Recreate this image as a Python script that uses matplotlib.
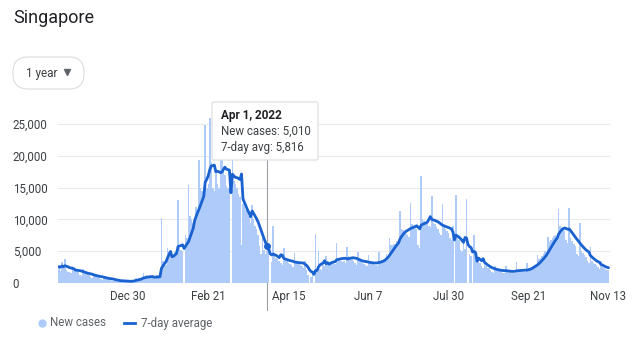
import numpy as np
import pandas as pd
import matplotlib
matplotlib.use("Agg")
import matplotlib.pyplot as plt
from matplotlib.lines import Line2D
from matplotlib.patches import FancyBboxPatch
from matplotlib.transforms import IdentityTransform

plt.rcParams['font.family'] = ['Roboto', 'DejaVu Sans']

# data
start = "2021-11-14"
# last 6 days before the window (only used to warm up the 7-day average)
cases_before = [2500, 2000, 3200, 2700, 2600, 2400]
# daily new cases, one row per week (Sun..Sat)
new_cases = [
    2600, 1900, 3300, 2500, 3700, 2100, 1800,
    1700, 1500, 2700, 2300, 2200, 1900, 1700,
    1300, 1100, 2200, 1700, 1500, 1400, 1300,
    900, 750, 1500, 1200, 1100, 1000, 900,
    600, 500, 1000, 800, 700, 650, 600,
    350, 280, 550, 400, 350, 330, 300,
    230, 200, 400, 290, 260, 250, 230,
    400, 450, 800, 700, 750, 700, 650,
    1500, 700, 1300, 1000, 950, 900, 800,
    800, 750, 1300, 1100, 1200, 10200, 3500,
    3200, 2900, 5500, 4800, 4600, 4400, 4000,
    4800, 4500, 13000, 5500, 5200, 5000, 0,
    7500, 7000, 15400, 10500, 10000, 9500, 9000,
    12000, 11500, 19300, 15000, 14500, 14000, 24800,
    15000, 15500, 26000, 19000, 15000, 14500, 17500,
    15500, 15000, 25000, 19500, 18000, 17000, 15300,
    15000, 14500, 0, 40000, 16000, 15500, 15000,
    14000, 13500, 6000, 12500, 12000, 11500, 11000,
    10500, 9500, 12200, 10000, 9000, 8500, 7500,
    5800, 4600, 8000, 5200, 4600, 5010, 4800,
    0, 3300, 9000, 4300, 4000, 3800, 3500,
    3200, 2800, 5500, 3600, 3400, 3200, 3000,
    2800, 2500, 4700, 3300, 3100, 3000, 2800,
    2700, 2400, 3500, 2000, 1200, 0, 1000,
    1800, 0, 7700, 2200, 5000, 2200, 2000,
    2900, 2600, 4200, 3500, 3300, 3200, 3000,
    3300, 3000, 6300, 3900, 3700, 3500, 3300,
    3400, 3100, 5600, 4300, 4100, 3800, 3500,
    3100, 2800, 4900, 3500, 3400, 3200, 3000,
    2900, 2600, 4400, 3200, 3100, 3000, 2800,
    2900, 2700, 4900, 3500, 3600, 3700, 3800,
    4500, 4300, 7000, 5900, 6000, 6100, 6200,
    6600, 6400, 11400, 8500, 8300, 8000, 7700,
    7600, 7300, 12600, 9200, 9000, 8800, 8500,
    6000, 5500, 16800, 10000, 9800, 9500, 9200,
    9000, 8800, 13700, 9500, 9200, 8800, 8500,
    7800, 7500, 12400, 8800, 8500, 8200, 7900,
    7000, 6800, 9000, 0, 13800, 7200, 6800,
    5200, 5000, 6700, 5400, 13200, 0, 4600,
    4200, 0, 7500, 4000, 3700, 3400, 3200,
    2700, 2300, 3300, 2600, 2400, 2300, 2100,
    1800, 1600, 2700, 2100, 2000, 1900, 1800,
    1600, 1500, 2700, 1900, 1800, 1700, 1600,
    1600, 1500, 3300, 2000, 1900, 1800, 1700,
    1800, 1700, 3200, 2400, 2400, 2500, 2600,
    2900, 2800, 4400, 3800, 4000, 4300, 4500,
    5000, 4800, 7200, 6500, 6800, 7100, 7400,
    7500, 7000, 11600, 9000, 8800, 8500, 8200,
    6800, 6300, 11800, 7000, 6600, 6200, 5800,
    4600, 4300, 9500, 5000, 4700, 4400, 4100,
    3400, 3100, 5600, 3400, 3200, 3000, 2800,
    2500, 2200, 3500, 2500, 2300, 2200, 2100,
    2000,
]
tick_dates = ["2021-12-30", "2022-02-21", "2022-04-15", "2022-06-07",
              "2022-07-30", "2022-09-21", "2022-11-13"]
tick_labels = ["Dec 30", "Feb 21", "Apr 15", "Jun 7", "Jul 30", "Sep 21", "Nov 13"]
y_ticks = [0, 5000, 10000, 15000, 20000, 25000]
hover_date = "2022-04-01"

# 7-day average
s = pd.Series(cases_before + new_cases)
avg7 = s.rolling(7, min_periods=1).mean().values[len(cases_before):]
days = np.arange(len(new_cases))
t0 = pd.Timestamp(start)
tick_pos = [(pd.Timestamp(d) - t0).days for d in tick_dates]
hover = (pd.Timestamp(hover_date) - t0).days

bar_col = "#aecbfa"
line_col = "#1a62d0"
text_col = "#3c4043"

fig = plt.figure(figsize=(6.4, 3.39), dpi=100)
W, H = 640, 339
ax = fig.add_axes([58 / W, (H - 283) / H, 552 / W, 171.7 / H])

ax.bar(days, new_cases, width=1.0, color=bar_col, linewidth=0, antialiased=False, zorder=2)
ax.plot(days, avg7, color=line_col, lw=2.0, zorder=3, solid_capstyle="round")
ax.plot([hover], [avg7[hover]], "o", color=line_col, ms=4, zorder=4)
ax.axvline(hover, ymin=-0.157, ymax=1.05, color="#9aa0a6", lw=0.8, clip_on=False, zorder=1)

ax.set_xlim(-0.5, 365)
ax.set_ylim(0, 27000)
ax.set_yticks(y_ticks)
ax.set_yticklabels([f"{v:,}" for v in y_ticks])
ax.set_xticks(tick_pos)
ax.set_xticklabels(tick_labels)
for lab in ax.get_yticklabels():
    lab.set_horizontalalignment("left")
ax.tick_params(axis="y", length=0, pad=32.5, labelsize=8.3, labelcolor=text_col)
ax.tick_params(axis="x", length=0, pad=5, labelsize=8.3, labelcolor=text_col)
ax.grid(axis="y", color="#e8eaed", lw=0.8, zorder=0)
ax.set_axisbelow(True)
for sp in ax.spines.values():
    sp.set_visible(False)

# title and range button
fig.text(13 / W, 1 - 18 / H, "Singapore", fontsize=13, color="#202124", va="center")
btn = FancyBboxPatch((13, H - 89), 71, 32, boxstyle="round,pad=0,rounding_size=15",
                     transform=IdentityTransform(), fc="white", ec="#dadce0", lw=0.8)
fig.add_artist(btn)
fig.text(26 / W, 1 - 73 / H, "1 year", fontsize=8.5, color=text_col, va="center")
fig.add_artist(Line2D([67 / W], [1 - 72 / H], marker="v", ms=4, color="#5f6368",
                      transform=fig.transFigure))

# tooltip
tip = FancyBboxPatch((212, H - 160), 106, 58, boxstyle="round,pad=0,rounding_size=2",
                     transform=IdentityTransform(), fc="white", ec="#dadce0", lw=0.8, zorder=5)
fig.add_artist(tip)
hd = pd.Timestamp(hover_date)
fig.text(221 / W, 1 - 115 / H, f"{hd.strftime('%b')} {hd.day}, {hd.year}", fontsize=8.5,
         fontweight="bold", color="#202124", va="center", zorder=6)
fig.text(221 / W, 1 - 131 / H, f"New cases: {new_cases[hover]:,}", fontsize=8.3,
         color=text_col, va="center", zorder=6)
fig.text(221 / W, 1 - 148 / H, f"7-day avg: {round(avg7[hover]):,}", fontsize=8.3,
         color=text_col, va="center", zorder=6)

# legend
fig.add_artist(Line2D([42 / W], [1 - 323 / H], marker="o", ms=5, color=bar_col, lw=0,
                      transform=fig.transFigure))
fig.text(50 / W, 1 - 323 / H, "New cases", fontsize=8.3, color="#5f6368", va="center")
fig.add_artist(Line2D([124 / W, 135 / W], [1 - 323 / H] * 2, lw=2, color=line_col,
                      transform=fig.transFigure))
fig.text(141 / W, 1 - 323 / H, "7-day average", fontsize=8.3, color="#5f6368", va="center")

fig.savefig("out.png", dpi=100)
